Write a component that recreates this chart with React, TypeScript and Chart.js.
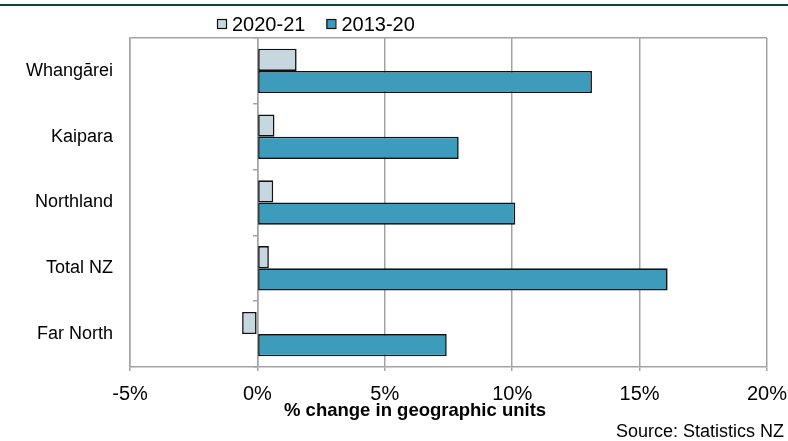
import React, { useEffect, useRef } from "react";
import { Chart, registerables } from "chart.js";

Chart.register(...registerables);

// ---- data ----
const categories = ["Whangārei", "Kaipara", "Northland", "Total NZ", "Far North"];
const series2020_21 = [1.54, 0.67, 0.62, 0.45, -0.6];
const series2013_20 = [13.13, 7.9, 10.12, 16.1, 7.43];
const seriesLabels = ["2020-21", "2013-20"];
const xMin = -5;
const xMax = 20;
const xStep = 5;
const axisTitle = "% change in geographic units";
const sourceNote = "Source: Statistics NZ";

// ---- styles ----
const FONT = "'Liberation Sans', Arial, Helvetica, sans-serif";
const LIGHT = "#c6d7e0";
const DARK = "#3d9bbb";
const BORDER = "#111111";
const GRID = "#a3a3a3";
const RULE = "#0b4a3b";

const decor = {
  id: "decor",
  afterDraw(chart: any) {
    const ctx = chart.ctx as CanvasRenderingContext2D;
    ctx.save();
    // top rule
    ctx.fillStyle = RULE;
    ctx.fillRect(0, 4, chart.width, 2);

    // legend
    const colors = [LIGHT, DARK];
    ctx.font = `20px ${FONT}`;
    ctx.textAlign = "left";
    ctx.textBaseline = "alphabetic";
    let x = 217;
    seriesLabels.forEach((label, i) => {
      ctx.fillStyle = colors[i];
      ctx.fillRect(x, 19.5, 9, 9);
      ctx.strokeStyle = BORDER;
      ctx.lineWidth = 1.2;
      ctx.strokeRect(x + 0.5, 19.5, 9, 9);
      ctx.fillStyle = "#000";
      ctx.fillText(label, x + 15, 30.5);
      x = x + 15 + ctx.measureText(label).width + 21;
    });

    // axis title
    ctx.font = `bold 18.5px ${FONT}`;
    ctx.fillStyle = "#000";
    ctx.textAlign = "left";
    ctx.fillText(axisTitle, 284, 416);

    // source
    ctx.font = `18px ${FONT}`;
    ctx.textAlign = "right";
    ctx.fillText(sourceNote, 784, 436.5);
    ctx.restore();
  },
};

export default function App() {
  const ref = useRef<HTMLCanvasElement | null>(null);

  useEffect(() => {
    document.body.style.margin = "0";
    const canvas = ref.current;
    if (!canvas) return;
    const chart = new Chart(canvas, {
      type: "bar",
      data: {
        labels: categories,
        datasets: [
          {
            label: seriesLabels[0],
            data: series2020_21,
            backgroundColor: LIGHT,
            borderColor: BORDER,
            borderWidth: 1.6,
            borderSkipped: false,
            barPercentage: 1,
            categoryPercentage: 0.675,
          },
          {
            label: seriesLabels[1],
            data: series2013_20,
            backgroundColor: DARK,
            borderColor: BORDER,
            borderWidth: 1.6,
            borderSkipped: false,
            barPercentage: 1,
            categoryPercentage: 0.675,
          },
        ],
      },
      options: {
        indexAxis: "y",
        responsive: false,
        animation: false,
        events: [],
        layout: { padding: { top: 38, left: 0, right: 21, bottom: 0 } },
        plugins: {
          legend: { display: false },
          tooltip: { enabled: false },
          title: { display: false },
        },
        scales: {
          x: {
            type: "linear",
            position: "bottom",
            min: xMin,
            max: xMax,
            ticks: {
              stepSize: xStep,
              color: "#000",
              font: { family: FONT, size: 20 },
              padding: 11,
              callback: (v: any) => `${v}%`,
            },
            grid: {
              color: GRID,
              lineWidth: 1.5,
              tickLength: 4,
              drawTicks: true,
            },
            border: { display: true, color: GRID, width: 1.5 },
            afterFit: (scale: any) => {
              scale.height = 74;
              scale.paddingLeft = 0;
              scale.paddingRight = 0;
            },
          },
          y: {
            type: "category",
            position: "left",
            ticks: {
              color: "#000",
              font: { family: FONT, size: 18 },
              padding: 17,
            },
            grid: {
              display: true,
              drawTicks: false,
              offset: true,
              lineWidth: 1.5,
              color: (c: any) => (c.index === 0 ? GRID : "rgba(0,0,0,0)"),
            },
            border: { display: true, color: GRID, width: 1.5 },
            afterFit: (scale: any) => {
              scale.width = 130;
            },
          },
          yZero: {
            type: "category",
            position: { x: 0 },
            offset: true,
            ticks: { display: false },
            grid: {
              display: true,
              offset: true,
              drawOnChartArea: false,
              drawTicks: true,
              tickLength: 4,
              color: GRID,
              lineWidth: 1.5,
            },
            border: { display: true, color: GRID, width: 1.5 },
          },
        },
      } as any,
      plugins: [decor],
    });
    return () => chart.destroy();
  }, []);

  return (
    <div style={{ position: "absolute", left: 0, top: 0, width: 788, height: 441, background: "#fff" }}>
      <canvas ref={ref} width={788} height={441} />
    </div>
  );
}
